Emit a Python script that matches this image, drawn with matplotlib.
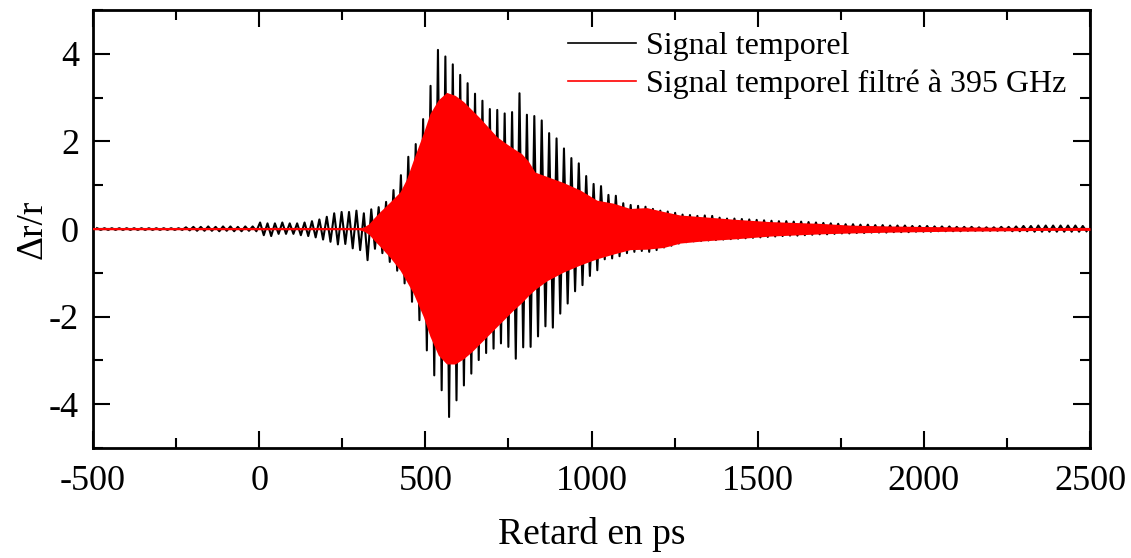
import numpy as np
import matplotlib
matplotlib.use("Agg")
import matplotlib.pyplot as plt
from matplotlib.lines import Line2D

plt.rcParams['font.family'] = ['Liberation Serif', 'DejaVu Serif']
plt.rcParams['axes.unicode_minus'] = False

# black signal: one spike tip per cycle (upper tip, then lower tip half a period later)
period_ps = 22.3
first_tip_ps = -487.8
black_up = [0.02] * 12 + [
    0.04, 0.05, 0.05, 0.06, 0.05, 0.06, 0.06, 0.05, 0.06, 0.06,
    0.15, 0.13, 0.13, 0.15, 0.13, 0.13, 0.15, 0.18, 0.22, 0.28, 0.36, 0.39, 0.39, 0.42, 0.36, 0.45,
    0.50, 0.62, 0.89, 1.23, 1.65, 1.94, 2.51, 3.27, 4.09, 3.94, 3.76, 3.52, 3.33, 3.09, 2.93, 2.74, 2.72, 2.64, 2.67, 3.10,
    2.61, 2.58, 2.48, 2.19, 2.07, 1.84, 1.62, 1.50, 1.21, 1.03, 0.98, 0.78, 0.76, 0.59, 0.55, 0.53, 0.51, 0.46, 0.42, 0.40,
    0.37, 0.33, 0.32, 0.30, 0.31, 0.30, 0.26, 0.24, 0.24, 0.23, 0.22, 0.21, 0.20, 0.19, 0.18, 0.18, 0.17, 0.17, 0.16, 0.15,
    0.14, 0.13, 0.12, 0.11, 0.11, 0.10, 0.10, 0.09, 0.09, 0.08, 0.08, 0.08, 0.07, 0.07, 0.07, 0.06, 0.06, 0.06, 0.05, 0.05,
    0.05, 0.04, 0.04, 0.04, 0.05, 0.05, 0.06, 0.07, 0.07, 0.08, 0.08, 0.08, 0.08, 0.08, 0.08, 0.07]
black_dn = [-0.02] * 12 + [
    -0.03, -0.04, -0.04, -0.04, -0.05, -0.04, -0.05, -0.05, -0.04, -0.05,
    -0.14, -0.16, -0.11, -0.11, -0.11, -0.14, -0.16, -0.19, -0.24, -0.29, -0.35, -0.34, -0.44, -0.48, -0.71, -0.45,
    -0.55, -0.75, -0.95, -1.24, -1.66, -2.08, -2.77, -3.34, -3.68, -4.29, -3.91, -3.57, -3.30, -2.99, -2.83, -2.73, -2.61, -2.69, -2.96, -2.70,
    -2.69, -2.45, -2.22, -2.25, -1.93, -1.70, -1.42, -1.28, -1.07, -0.94, -0.69, -0.67, -0.62, -0.55, -0.52, -0.50, -0.52, -0.48, -0.42, -0.38,
    -0.33, -0.30, -0.28, -0.27, -0.26, -0.25, -0.24, -0.23, -0.22, -0.21, -0.20, -0.19, -0.18, -0.17, -0.16, -0.15, -0.15, -0.14, -0.13, -0.12,
    -0.12, -0.11, -0.10, -0.10, -0.09, -0.09, -0.08, -0.08, -0.08, -0.07, -0.07, -0.07, -0.06, -0.06, -0.06, -0.05, -0.05, -0.05, -0.05, -0.04,
    -0.04, -0.04, -0.04, -0.04, -0.04, -0.05, -0.05, -0.05, -0.06, -0.06, -0.06, -0.06, -0.06, -0.06, -0.06, -0.05]

# red (filtered 395 GHz) signal: envelope of the dense oscillation
red_t = [-500, 300, 315, 330, 345, 364, 394, 424, 444, 464, 494, 514, 539, 564, 590, 615, 640, 665, 690,
         715, 740, 765, 790, 810, 830, 866, 916, 966, 1016, 1066, 1116, 1166, 1217, 1267, 1337, 1437,
         1538, 1688, 1778, 1900, 2079, 2250, 2380, 2500]
red_up = [0.015, 0.015, 0.05, 0.12, 0.25, 0.40, 0.62, 0.85, 1.15, 1.58, 2.19, 2.64, 2.95, 3.12, 3.05, 2.91, 2.72, 2.53, 2.32,
          2.11, 1.97, 1.84, 1.72, 1.55, 1.30, 1.20, 1.06, 0.89, 0.66, 0.59, 0.47, 0.49, 0.40, 0.32, 0.28, 0.22,
          0.17, 0.13, 0.09, 0.07, 0.05, 0.04, 0.03, 0.03]
red_dn = [-0.015, -0.015, -0.05, -0.12, -0.25, -0.40, -0.65, -0.94, -1.20, -1.47, -2.00, -2.45, -2.88, -3.08, -3.08, -2.96, -2.80, -2.61, -2.42,
          -2.23, -2.04, -1.85, -1.68, -1.52, -1.38, -1.18, -0.98, -0.82, -0.68, -0.57, -0.47, -0.46, -0.42, -0.32, -0.27, -0.22,
          -0.16, -0.11, -0.09, -0.07, -0.05, -0.04, -0.03, -0.03]

labels = ['Signal temporel', 'Signal temporel filtré à 395 GHz']

t_up = first_tip_ps + period_ps * np.arange(len(black_up))
t_black = np.column_stack([t_up, t_up + period_ps / 2]).ravel()
v_black = np.column_stack([black_up, black_dn]).ravel()

fig = plt.figure(figsize=(11.31, 5.58), dpi=100)
ax = fig.add_axes([0.0822, 0.197, 0.8816, 0.785])

ax.plot(t_black, v_black, color='black', lw=1.5, zorder=2)
ax.fill_between(red_t, red_dn, red_up, color='#ff0000', lw=0, zorder=3)
ax.plot(red_t, np.zeros(len(red_t)), color='#ff0000', lw=1.5, zorder=3)

ax.set_xlim(-500, 2500)
ax.set_ylim(-5, 5)
ax.set_xticks(np.arange(-500, 2501, 500))
ax.set_xticks(np.arange(-250, 2500, 500), minor=True)
ax.set_yticks([-4, -2, 0, 2, 4])
ax.set_yticks([-5, -3, -1, 1, 3, 5], minor=True)
ax.tick_params(which='both', direction='in', top=True, right=True, width=1.5, labelsize=26)
ax.tick_params(which='major', length=12)
ax.tick_params(which='minor', length=7)
ax.tick_params(axis='x', pad=12)
ax.tick_params(axis='y', pad=10)
for sp in ax.spines.values():
    sp.set_linewidth(2)

ax.set_xlabel('Retard en ps', fontsize=27, labelpad=14)
ax.set_ylabel('Δr/r', fontsize=27)
ax.yaxis.set_label_coords(-0.043, 0.5)

handles = [Line2D([], [], color='black', lw=1.2), Line2D([], [], color='#ff0000', lw=1.2)]
ax.legend(handles, labels, loc='upper left', bbox_to_anchor=(0.476, 0.95), frameon=False,
          fontsize=23, handlelength=2.15, handletextpad=0.3, labelspacing=0.25,
          borderpad=0, borderaxespad=0)

fig.savefig('out.png', dpi=100)
